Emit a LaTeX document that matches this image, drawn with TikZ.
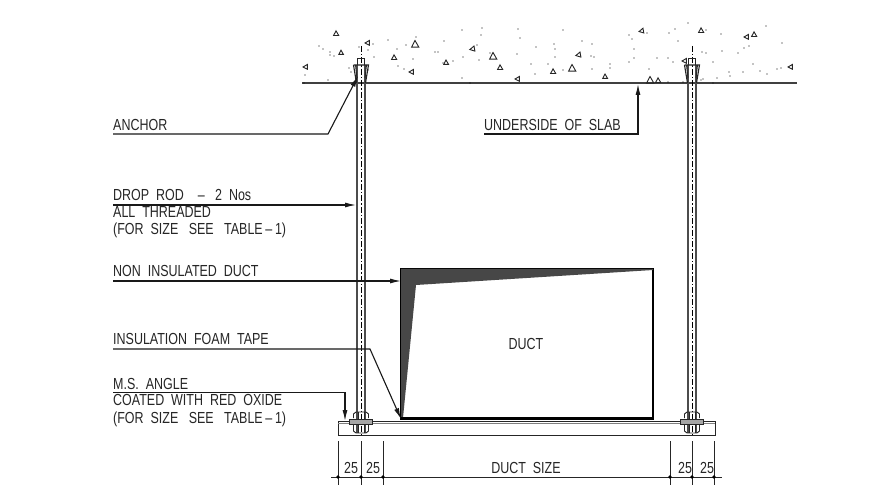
\documentclass[tikz,border=0pt]{standalone}
\usepackage{fontspec}
\setmainfont[FakeStretch=0.78]{Liberation Sans}
\usepackage{tikz}
\usetikzlibrary{arrows.meta}

% one unit is one pixel of the sheet
\newcommand{\rodparts}[2]{%
  \draw[rodline] (#1-4,#2) -- (#1-4,433) (#1+4,#2) -- (#1+4,433);
  \draw[centerline] (#1,46) -- (#1,436);
  \draw[part] (#1-3.5,65) -- (#1-3.5,58) -- (#1+3.5,58) -- (#1+3.5,65);
  \draw[part,line width=1.1pt] (#1-7.5,65) -- (#1+7.5,65) -- (#1+4.5,83) (#1-7.5,65) -- (#1-4.5,83);
  \draw[part] (#1-5.5,65) -- (#1-4,78) (#1+5.5,65) -- (#1+4,78);
  \draw[part] (#1-7.5,418) -- (#1-7.5,414) -- (#1-5,412) -- (#1+5,412) -- (#1+7.5,414) -- (#1+7.5,418);
  \draw[part] (#1-7.5,424) -- (#1-7.5,431) -- (#1-5,433) -- (#1+5,433) -- (#1+7.5,431) -- (#1+7.5,424);
  \draw[part] (#1-3,412) -- (#1-3,433) (#1+3,412) -- (#1+3,433);
  \draw[part,fill=black!35] (#1-11.5,419) rectangle (#1+11.5,424);
}

\begin{document}
\begin{tikzpicture}[x=1pt,y=-1pt,
   every node/.style={inner sep=0pt,font=\fontsize{16}{16}\selectfont,text=black!85},
   label/.style={anchor=base west},
   dimtext/.style={anchor=base},
   part/.style={draw=black!85,line width=.9pt},
   rodline/.style={draw=black!70,line width=1.3pt},
   centerline/.style={draw=black,line width=.8pt,dash pattern=on 6pt off 2pt on 1.5pt off 2pt},
   leader/.style={draw=black!90,line width=1.1pt},
   tipline/.style={leader,-{Latex[length=11pt,width=5pt]}},
   dimline/.style={draw=black!85,line width=.8pt},
   speck/.style={fill=black,inner sep=0pt,minimum size=1.2pt,circle},
   stone/.style={draw=black!85,line width=.9pt}]
\useasboundingbox[fill=white] (0,0) rectangle (894,502);

% concrete slab
\draw[draw=black!75,line width=1.3pt] (302,83) -- (797,83);
\foreach \tx/\ty/\ta/\tr in {336/34/270/3.2,341/53/270/2.8,306/67/180/3,368/43/180/3,415/45/270/4.5,
   394/58/270/3.2,412/72/180/3,446/63/270/3,473/49/170/3.2,493/57/270/4.5,500/68/270/3.2,
   518/79/180/3,553/72/270/3.2,572/69/270/4.5,579/55/170/3.2,605/77/270/3,642/31/170/3,
   701/31/270/3.2,747/37/180/3,754/35/270/3.2,791/67/180/3,685/61/180/3,650/81/270/4.5,
   658/81/270/3.2}
  \draw[stone] (\tx,\ty) ++(\ta:\tr) -- ++(\ta+150:1.7*\tr) -- ++(\ta+270:1.6*\tr) -- cycle;
\foreach \sx/\sy in {319/46,323/49,330/52,330/55,334/56,305/75,304/83,328/80,359/47,373/44,
   368/50,374/57,388/40,397/49,406/45,416/37,413/59,398/66,404/69,435/52,438/52,444/41,453/61,
   443/63,463/57,462/30,349/68,351/72,368/70,470/83,462/78,482/28,481/35,479/60,477/45,490/53,
   518/29,520/38,517/54,536/47,531/64,535/74,548/64,554/44,555/49,555/57,563/30,563/70,582/41,
   592/44,591/56,594/57,592/69,610/64,610/68,629/35,632/39,634/49,634/58,629/62,647/33,649/69,
   657/58,668/58,673/62,669/33,675/29,678/41,688/23,702/52,706/53,722/51,713/62,721/34,706/30,
   766/26,744/48,749/46,738/53,782/43,753/64,760/71,767/74,777/69,781/68,743/72,729/72,730/76,
   717/78,703/79,701/80,713/83,668/82,683/82}
  \node[speck] at (\sx,\sy) {};

% angle with rods
\draw[part] (338,421) rectangle (715,435);
\draw[draw=black!50,line width=.9pt] (338,423.5) -- (715,423.5);
\rodparts{361}{65}
\rodparts{692}{65}

% duct
\draw[draw=black,line width=1.1pt] (401,269) rectangle (653,419);
\fill[black!72] (401,269) -- (653,269) -- (653,270) -- (416,285) -- (403,418) -- (401,418) -- cycle;
\fill[black] (401,417) rectangle (653,420);
\node (ductname) at (526,344) {DUCT};

% labels
\node[label] (anchorname) at (113,131) {ANCHOR};
\node[label] (slabname) at (484,131) {UNDERSIDE\ \ OF\ \ SLAB};
\node[label] (rodname) at (113,201) {DROP\ \ ROD\ \ \ \ --\ \ \ 2\ \ Nos};
\node[label] (rodnote) at (113,218) {ALL\ \ THREADED};
\node[label] (rodsize) at (113,235) {(FOR\ \ SIZE\ \ \ SEE\ \ \ TABLE\,--\,1)};
\node[label] (ductnote) at (113,277) {NON\ \ INSULATED\ \ DUCT};
\node[label] (tapename) at (113,345) {INSULATION\ \ FOAM\ \ TAPE};
\node[label] (anglename) at (113,389) {M.S.\ \ ANGLE};
\node[label] (anglenote) at (113,405) {COATED\ \ WITH\ \ RED\ \ OXIDE};
\node[label] (anglesize) at (113,423) {(FOR\ \ SIZE\ \ \ SEE\ \ \ TABLE\,--\,1)};

% leader ends
\coordinate (a0) at (113,134);  \coordinate (a1) at (328,134);  \coordinate (a2) at (358,76);
\coordinate (u0) at (484,134);  \coordinate (u1) at (638,134);  \coordinate (u2) at (638,84);
\coordinate (r0) at (113,205);  \coordinate (r1) at (356,205);
\coordinate (d0) at (113,281);  \coordinate (d1) at (401,281);
\coordinate (t0) at (113,349);  \coordinate (t1) at (370,349);  \coordinate (t2) at (401,419);
\coordinate (m0) at (113,392.5);\coordinate (m1) at (345,392.5);\coordinate (m2) at (345,421);
\draw[tipline] (a0) -- (a1) -- (a2);
\draw[tipline] (u0) -- (u1) -- (u2);
\draw[tipline] (r0) -- (r1);
\draw[tipline] (d0) -- (d1);
\draw[tipline] (t0) -- (t1) -- (t2);
\draw[tipline] (m0) -- (m1) -- (m2);

% dimensions
\coordinate (dimleft) at (331,477);
\coordinate (dimright) at (722,477);
\draw[dimline] (dimleft) -- (dimright);
\foreach \dx in {338,361,383,670,692,714}{
  \draw[dimline] (\dx,441) -- (\dx,485);
  \fill (\dx,477) circle (1.8pt);
}
\node[dimtext] (dimA) at (351,473) {25};
\node[dimtext] (dimB) at (373,473) {25};
\node[dimtext] (dimC) at (526,473) {DUCT\ \ SIZE};
\node[dimtext] (dimD) at (685,473) {25};
\node[dimtext] (dimE) at (707,473) {25};
\end{tikzpicture}
\end{document}
